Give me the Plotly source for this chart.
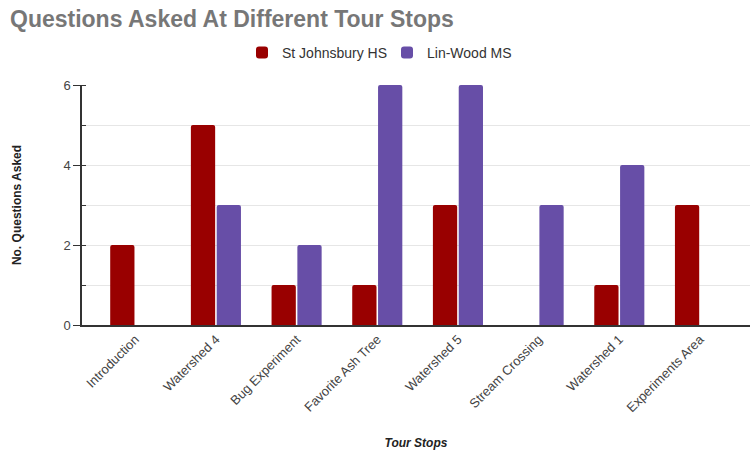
import plotly.graph_objects as go

categories = ["Introduction", "Watershed 4", "Bug Experiment", "Favorite Ash Tree",
              "Watershed 5", "Stream Crossing", "Watershed 1", "Experiments Area"]
st_johnsbury = [2, 5, 1, 1, 3, 0, 1, 3]
lin_wood = [0, 3, 2, 6, 6, 3, 4, 0]
y_ticks = [0, 2, 4, 6]

fig = go.Figure()
fig.add_trace(go.Bar(x=categories, y=st_johnsbury, name="St Johnsbury HS",
                     marker=dict(color="#990000", line=dict(width=0))))
fig.add_trace(go.Bar(x=categories, y=lin_wood, name="Lin-Wood MS",
                     marker=dict(color="#674ea7", line=dict(width=0))))

font_family = "Liberation Sans, Arial, sans-serif"
fig.update_layout(
    width=750, height=452,
    margin=dict(l=82, r=0, t=85, b=127),
    paper_bgcolor="white", plot_bgcolor="white",
    barmode="group", bargap=0.36, bargroupgap=0.06, barcornerradius=2,
    font=dict(family=font_family, color="#444444"),
    title=dict(text="<b>Questions Asked At Different Tour Stops</b>",
               x=10 / 750, xanchor="left", xref="container",
               y=1 - 19 / 452, yanchor="middle", yref="container",
               font=dict(size=23, color="#777777", family=font_family)),
    legend=dict(orientation="h", xref="container", yref="container",
                x=242 / 750, xanchor="left", y=1 - 53 / 452, yanchor="middle",
                font=dict(size=14, color="#333333"), itemwidth=30,
                entrywidth=100, entrywidthmode="pixels",
                traceorder="normal"),
    showlegend=True,
)
fig.update_yaxes(
    range=[0, 6], tickvals=y_ticks, ticktext=[str(v) for v in y_ticks],
    showgrid=True, gridcolor="#e6e6e6", gridwidth=1,
    showline=True, linecolor="#333333", linewidth=1.5,
    ticks="outside", ticklen=7, tickcolor="#333333",
    tickfont=dict(size=13, color="#444444"),
    minor=dict(dtick=1, showgrid=True, gridcolor="#e6e6e6", ticks="inside",
               ticklen=4, tickcolor="#333333"),
    zeroline=False, automargin=False,
    title=dict(text="<b>No. Questions Asked</b>", font=dict(size=12, color="#222222"),
               standoff=39),
)
fig.update_xaxes(
    range=[-0.66, 7.62],
    showline=True, linecolor="#333333", linewidth=1.5,
    tickangle=-45, tickfont=dict(size=13, color="#444444"),
    ticks="", showgrid=False, automargin=False,
    title=dict(text="<b><i>Tour Stops</i></b>", font=dict(size=12, color="#222222"),
               standoff=24),
)
fig.write_html("out.html")
